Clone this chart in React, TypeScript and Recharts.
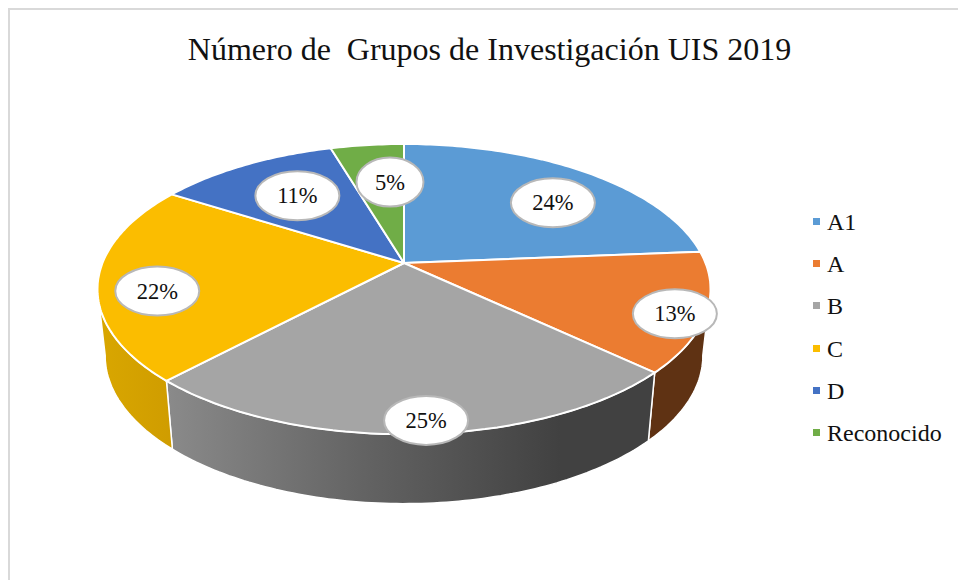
import React from "react";
import { PieChart, Pie, Legend } from "recharts";

const groups = ["A1", "A", "B", "C", "D", "Reconocido"];
const shares = [23.7, 13.3, 25, 22, 11.4, 4.6];
const colors = ["#5b9bd5", "#eb7c31", "#a5a5a5", "#fbbd00", "#4472c4", "#70ad47"];
const wallFills = ["none", "#5f3213", "url(#wallB)", "url(#wallC)", "none", "none"];
// manual placement of the callouts, relative to the default spot on the slice
const labelNudge = [[18, 6], [63, 17], [14.5, 45], [-34, 15.5], [9, 4], [13, 5.5]];

const data = groups.map((name, i) => ({ name, value: shares[i], fill: colors[i] }));

const serif = "'Liberation Serif', 'Times New Roman', serif";
const squash = 0.4657; // vertical flattening of the disc
const persp = 0.18; // far side of the disc is smaller than the near side

// clockwise degrees from the top of the disc -> screen point
const project = (cx: number, cy: number, R: number, deg: number, r = 1) => {
    const t = (deg * Math.PI) / 180;
    const u = Math.sin(t);
    const v = Math.cos(t);
    const d = 1 + persp * r * v;
    return [cx + (R * r * u) / d, cy - (R * squash * r * v) / d];
};

// the base of the disc sits lower and a bit narrower than the top
const toBase = (p: number[], cx: number, cy: number) => [
    cx + (p[0] - cx) * 0.975,
    cy + 66 + (p[1] - cy) * 1.02,
];

const sweep = (from: number, to: number) => {
    const steps = Math.max(2, Math.ceil(Math.abs(to - from)));
    return Array.from({ length: steps + 1 }, (_, i) => from + ((to - from) * i) / steps);
};

const toPath = (pts: number[][]) =>
    pts.map((p, i) => `${i ? "L" : "M"}${p[0].toFixed(1)} ${p[1].toFixed(1)}`).join(" ") + " Z";

const TopSlice = (props: any) => {
    const { cx, cy, outerRadius, startAngle, endAngle, fill } = props;
    const rim = sweep(90 - startAngle, 90 - endAngle).map((d) => project(cx, cy, outerRadius, d));
    return <path d={toPath([[cx, cy], ...rim])} fill={fill} stroke="#fff" strokeWidth={2} strokeLinejoin="round" />;
};

const WallSlice = (props: any) => {
    const { cx, cy, outerRadius, startAngle, endAngle, index } = props;
    // only the part of the rim that faces the viewer
    const limit = (Math.acos(-persp) * 180) / Math.PI;
    const from = Math.max(90 - startAngle, limit);
    const to = Math.min(90 - endAngle, 360 - limit);
    if (to <= from) return null;
    const rim = sweep(from, to).map((d) => project(cx, cy, outerRadius, d));
    const base = rim.map((p) => toBase(p, cx, cy)).reverse();
    return <path d={toPath([...rim, ...base])} fill={wallFills[index]} stroke="#fff" strokeWidth={1.5} strokeLinejoin="round" />;
};

const Callout = (props: any) => {
    const { cx, cy, outerRadius, midAngle, percent, index } = props;
    const [x, y] = project(cx, cy, outerRadius, 90 - midAngle, 0.7);
    const lx = x + labelNudge[index][0];
    const ly = y + labelNudge[index][1];
    const txt = `${Math.round(percent * 100)}%`;
    return (
        <g>
            <ellipse cx={lx} cy={ly} rx={txt.length > 2 ? 42 : 33.5} ry={24.5} fill="#fff" stroke="#b8b8b8" strokeWidth={2} />
            <text x={lx} y={ly + 7.5} textAnchor="middle" fontFamily={serif} fontSize={22.5} fill="#111">
                {txt}
            </text>
        </g>
    );
};

const LegendList = () => (
    <div style={{ fontFamily: serif, fontSize: 24, color: "#111" }}>
        {groups.map((name, i) => (
            <div key={name} style={{ position: "relative", height: 42.2, lineHeight: "42px", paddingLeft: 14 }}>
                <span style={{ position: "absolute", left: 0, top: 17, width: 7, height: 7, background: colors[i] }} />
                {name}
            </div>
        ))}
    </div>
);

export default function App() {
    return (
        <div style={{ position: "absolute", left: 0, top: 0, width: 958, height: 580, overflow: "hidden", background: "#fff" }}>
            <div style={{ position: "absolute", left: 8, top: 8, width: 960, height: 590, border: "2px solid #d9d9d9" }} />
            <div
                style={{
                    position: "absolute",
                    left: 0,
                    top: 31,
                    width: 979,
                    textAlign: "center",
                    fontFamily: serif,
                    fontSize: 32,
                    color: "#111",
                    whiteSpace: "pre",
                }}
            >
                Número de  Grupos de Investigación UIS 2019
            </div>
            <PieChart
                width={958}
                height={580}
                margin={{ top: 0, right: 0, bottom: 0, left: 0 }}
                style={{ position: "absolute", left: 0, top: 0 }}
            >
                <defs>
                    <linearGradient id="wallB" gradientUnits="userSpaceOnUse" x1="168" y1="0" x2="560" y2="0">
                        <stop offset="0" stopColor="#8a8a8a" />
                        <stop offset="0.5" stopColor="#636363" />
                        <stop offset="1" stopColor="#414141" />
                    </linearGradient>
                    <linearGradient id="wallC" gradientUnits="userSpaceOnUse" x1="97" y1="0" x2="175" y2="0">
                        <stop offset="0" stopColor="#d9a700" />
                        <stop offset="1" stopColor="#cf9c00" />
                    </linearGradient>
                </defs>
                <Pie
                    data={data}
                    dataKey="value"
                    cx={404}
                    cy={263}
                    outerRadius={301.5}
                    startAngle={90}
                    endAngle={-270}
                    shape={WallSlice}
                    legendType="none"
                    isAnimationActive={false}
                />
                <Pie
                    data={data}
                    dataKey="value"
                    cx={404}
                    cy={263}
                    outerRadius={301.5}
                    startAngle={90}
                    endAngle={-270}
                    shape={TopSlice}
                    label={Callout}
                    labelLine={false}
                    isAnimationActive={false}
                />
                <Legend
                    content={LegendList}
                    layout="vertical"
                    wrapperStyle={{ left: 813, top: 201, width: 145 }}
                />
            </PieChart>
        </div>
    );
}
